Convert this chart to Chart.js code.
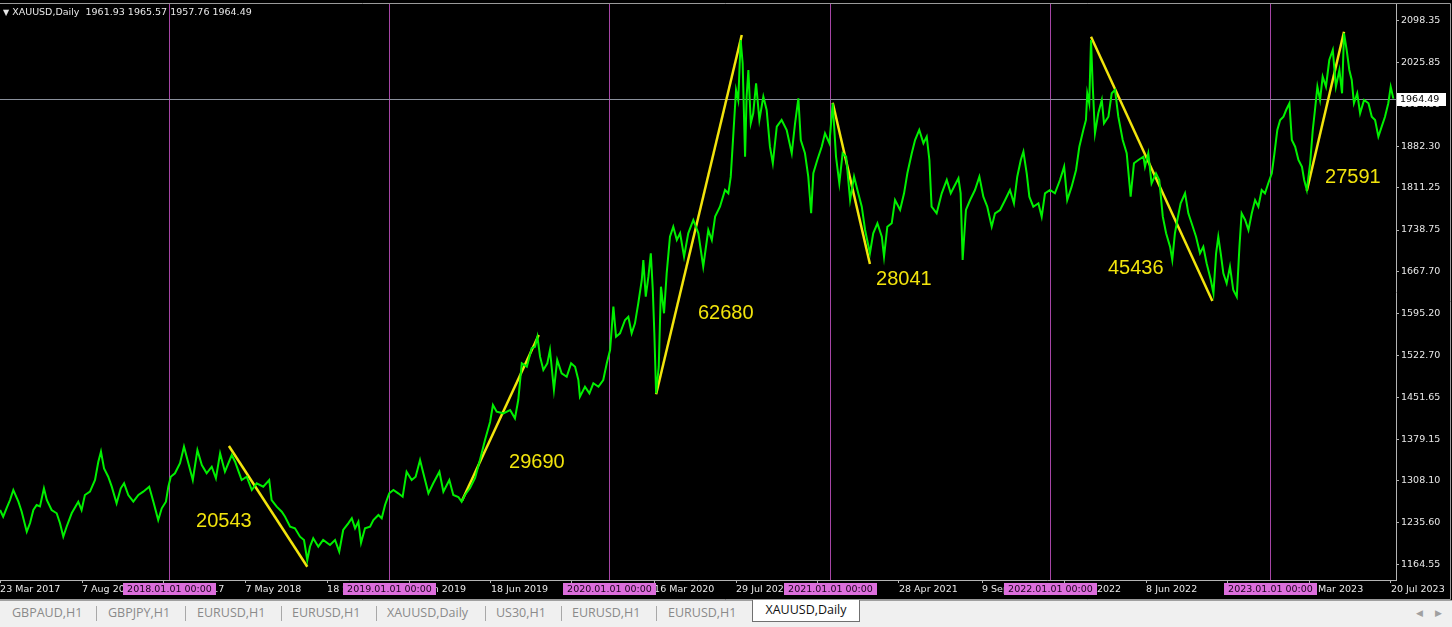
<!DOCTYPE html>
<html>
<head>
<meta charset="utf-8">
<script src="https://cdn.jsdelivr.net/npm/chart.js@4.4.1/dist/chart.umd.min.js"></script>
<style>
  html, body { margin: 0; padding: 0; background: #000; width: 1452px; height: 627px; overflow: hidden; }
  #wrap { position: absolute; left: 0; top: 0; width: 1452px; height: 600px; }
  #header { position: absolute; left: 3px; top: 6px; color: #e8e8e8; font: 9.5px "DejaVu Sans", sans-serif; white-space: pre; }
  #header .tri { font-size: 8px; }
  #tabs { position: absolute; left: 0; top: 600px; width: 1452px; height: 27px; background: #f0f0f0;
          border-top: 1px solid #a0a0a0; box-sizing: border-box; font: 12.5px "Open Sans", sans-serif; color: #8a8a8a; }
  .tab { position: absolute; top: 3px; white-space: nowrap; }
  .sep { position: absolute; top: 5px; width: 1px; height: 15px; background: #a8a8a8; }
  .active { position: absolute; left: 752px; top: -1px; width: 106px; height: 21px; background: #fff;
            border: 1px solid #707070; border-top: none; color: #111; text-align: center; line-height: 20px; }
  .arr { position: absolute; top: 5px; font-size: 9px; color: #a0a0a0; }
</style>
</head>
<body>
<div id="wrap"><canvas id="chart" width="1452" height="600"></canvas></div>
<div id="header"><span class="tri">▼</span> XAUUSD,Daily  1961.93 1965.57 1957.76 1964.49</div>
<div id="tabs">
  <span class="tab" style="left:12px">GBPAUD,H1</span><span class="sep" style="left:96px"></span>
  <span class="tab" style="left:108px">GBPJPY,H1</span><span class="sep" style="left:185px"></span>
  <span class="tab" style="left:197px">EURUSD,H1</span><span class="sep" style="left:281px"></span>
  <span class="tab" style="left:292px">EURUSD,H1</span><span class="sep" style="left:376px"></span>
  <span class="tab" style="left:387px">XAUUSD,Daily</span><span class="sep" style="left:485px"></span>
  <span class="tab" style="left:496px">US30,H1</span><span class="sep" style="left:561px"></span>
  <span class="tab" style="left:572px">EURUSD,H1</span><span class="sep" style="left:656px"></span>
  <span class="tab" style="left:668px">EURUSD,H1</span>
  <span class="active">XAUUSD,Daily</span>
  <span class="arr" style="left:1416px">◀</span><span class="arr" style="left:1435px">▶</span>
</div>
<script>
// XAUUSD daily closes, x = decimal year
const closeYears = [
  2017.233, 2017.247, 2017.263, 2017.278, 2017.293, 2017.316, 2017.331, 2017.354, 2017.369, 2017.384,
  2017.399, 2017.414, 2017.432, 2017.445, 2017.467, 2017.490, 2017.505, 2017.520, 2017.535, 2017.558,
  2017.588, 2017.603, 2017.618, 2017.641, 2017.664, 2017.679, 2017.691, 2017.705, 2017.724, 2017.740,
  2017.762, 2017.781, 2017.796, 2017.815, 2017.838, 2017.861, 2017.883, 2017.910, 2017.929, 2017.951,
  2017.967, 2017.986, 2017.997,
  2018.008, 2018.027, 2018.050, 2018.068, 2018.088, 2018.108, 2018.129, 2018.149, 2018.171, 2018.194,
  2018.213, 2018.232, 2018.254, 2018.285, 2018.300, 2018.319, 2018.330, 2018.353, 2018.376, 2018.398,
  2018.428, 2018.455, 2018.466, 2018.489, 2018.512, 2018.527, 2018.550, 2018.572, 2018.595, 2018.613,
  2018.628, 2018.640, 2018.655, 2018.678, 2018.700, 2018.731, 2018.754, 2018.773, 2018.791, 2018.814,
  2018.830, 2018.845, 2018.860, 2018.872, 2018.890, 2018.913, 2018.928, 2018.951, 2018.966, 2018.981,
  2019.000, 2019.019, 2019.041, 2019.061, 2019.079, 2019.102, 2019.120, 2019.140, 2019.155, 2019.178,
  2019.200, 2019.228, 2019.246, 2019.273, 2019.291, 2019.314, 2019.329, 2019.344, 2019.367, 2019.390,
  2019.412, 2019.435, 2019.458, 2019.471, 2019.488, 2019.518, 2019.549, 2019.571, 2019.586, 2019.602,
  2019.625, 2019.647, 2019.662, 2019.673, 2019.685, 2019.700, 2019.718, 2019.730, 2019.748, 2019.763,
  2019.783, 2019.806, 2019.826, 2019.844, 2019.859, 2019.866, 2019.889, 2019.909, 2019.927, 2019.950,
  2019.972, 2019.988,
  2020.003, 2020.010, 2020.018, 2020.030, 2020.048, 2020.071, 2020.086, 2020.101, 2020.116, 2020.131,
  2020.147, 2020.154, 2020.165, 2020.177, 2020.188, 2020.197, 2020.204, 2020.212, 2020.224, 2020.234,
  2020.248, 2020.260, 2020.275, 2020.290, 2020.306, 2020.321, 2020.339, 2020.358, 2020.381, 2020.404,
  2020.426, 2020.449, 2020.465, 2020.480, 2020.502, 2020.525, 2020.540, 2020.551, 2020.563, 2020.575,
  2020.585, 2020.596, 2020.605, 2020.616, 2020.623, 2020.631, 2020.642, 2020.653, 2020.666, 2020.681,
  2020.699, 2020.714, 2020.729, 2020.742, 2020.760, 2020.782, 2020.805, 2020.828, 2020.843, 2020.858,
  2020.869, 2020.888, 2020.903, 2020.916, 2020.926, 2020.944, 2020.964, 2020.979, 2020.999,
  2021.014, 2021.029, 2021.044, 2021.059, 2021.075, 2021.093, 2021.111, 2021.130, 2021.146, 2021.161,
  2021.183, 2021.198, 2021.217, 2021.237, 2021.247, 2021.262, 2021.282, 2021.297, 2021.320, 2021.338,
  2021.353, 2021.373, 2021.388, 2021.407, 2021.426, 2021.441, 2021.453, 2021.463, 2021.486, 2021.509,
  2021.532, 2021.550, 2021.565, 2021.585, 2021.595, 2021.604, 2021.619, 2021.638, 2021.660, 2021.680,
  2021.698, 2021.716, 2021.736, 2021.751, 2021.774, 2021.797, 2021.819, 2021.837, 2021.852, 2021.868,
  2021.880, 2021.895, 2021.907, 2021.925, 2021.948, 2021.963, 2021.978,
  2022.001, 2022.023, 2022.046, 2022.065, 2022.079, 2022.099, 2022.119, 2022.134, 2022.152, 2022.164,
  2022.170, 2022.179, 2022.187, 2022.195, 2022.205, 2022.220, 2022.236, 2022.246, 2022.266, 2022.281,
  2022.296, 2022.311, 2022.331, 2022.349, 2022.367, 2022.382, 2022.402, 2022.425, 2022.432, 2022.447,
  2022.462, 2022.482, 2022.497, 2022.513, 2022.528, 2022.546, 2022.556, 2022.568, 2022.579, 2022.594,
  2022.614, 2022.629, 2022.644, 2022.664, 2022.682, 2022.697, 2022.712, 2022.731, 2022.743, 2022.755,
  2022.765, 2022.776, 2022.788, 2022.803, 2022.818, 2022.833, 2022.849, 2022.861, 2022.871, 2022.887,
  2022.902, 2022.917, 2022.932, 2022.947, 2022.962, 2022.977, 2022.992,
  2023.008, 2023.020, 2023.033, 2023.046, 2023.061, 2023.073, 2023.088, 2023.099, 2023.114, 2023.129,
  2023.145, 2023.155, 2023.167, 2023.182, 2023.194, 2023.204, 2023.215, 2023.227, 2023.239, 2023.254,
  2023.269, 2023.285, 2023.299, 2023.315, 2023.327, 2023.336, 2023.348, 2023.360, 2023.371, 2023.381,
  2023.396, 2023.409, 2023.427, 2023.447, 2023.462, 2023.477, 2023.492, 2023.507, 2023.522, 2023.537,
  2023.548, 2023.560
];
const closePrices = [
  1257.8, 1246.3, 1261.3, 1275.0, 1292.2, 1272.1, 1254.9, 1220.5, 1235.5, 1257.8,
  1266.4, 1264.0, 1295.1, 1275.0, 1257.8, 1252.2, 1235.0, 1212.0, 1229.1, 1252.2,
  1272.1, 1257.8, 1283.6, 1289.3, 1309.4, 1340.8, 1358.0, 1329.4, 1315.0, 1297.9,
  1269.3, 1295.1, 1303.7, 1283.6, 1272.1, 1283.6, 1289.3, 1297.9, 1272.1, 1240.6,
  1260.7, 1272.1, 1297.9,
  1315.0, 1320.9, 1338.1, 1366.6, 1338.1, 1309.4, 1360.9, 1335.1, 1320.9, 1332.2,
  1312.3, 1355.2, 1323.6, 1352.3, 1340.8, 1320.9, 1309.4, 1315.0, 1292.2, 1303.7,
  1297.9, 1309.4, 1275.0, 1263.5, 1254.9, 1246.3, 1229.1, 1226.4, 1212.0, 1206.3,
  1171.9, 1194.8, 1209.2, 1194.8, 1206.3, 1197.7, 1206.3, 1186.2, 1223.5, 1235.0,
  1243.6, 1226.4, 1237.7, 1201.3, 1226.4, 1229.1, 1240.6, 1249.2, 1243.6, 1266.4,
  1286.5, 1292.2, 1286.5, 1280.7, 1323.6, 1309.4, 1315.0, 1343.7, 1320.9, 1286.5,
  1303.7, 1323.6, 1289.3, 1309.4, 1283.6, 1280.2, 1272.1, 1283.6, 1295.6, 1312.8,
  1343.7, 1378.1, 1409.0, 1438.2, 1426.7, 1423.9, 1429.6, 1415.3, 1446.8, 1509.8,
  1504.0, 1535.6, 1538.3, 1555.5, 1521.2, 1498.3, 1509.8, 1532.7, 1464.0, 1515.5,
  1492.7, 1486.8, 1509.8, 1504.0, 1481.1, 1452.5, 1469.6, 1458.3, 1475.5, 1469.6,
  1481.1, 1509.8,
  1532.7, 1567.0, 1607.1, 1555.5, 1561.3, 1584.2, 1589.9, 1561.3, 1578.5, 1612.9,
  1652.9, 1687.3, 1624.2, 1658.6, 1698.8, 1635.7, 1561.3, 1458.3, 1504.0, 1641.4,
  1595.7, 1664.4, 1727.3, 1744.5, 1721.6, 1733.1, 1692.9, 1733.1, 1756.0, 1733.1,
  1675.8, 1738.8, 1721.6, 1761.7, 1778.8, 1807.5, 1801.8, 1830.4, 1904.9, 1979.3,
  1962.1, 2065.2, 2025.2, 1864.7, 1967.8, 2013.7, 1922.1, 1939.3, 1990.8, 1927.8,
  1967.8, 1944.9, 1881.9, 1853.4, 1916.3, 1927.8, 1910.6, 1870.6, 1922.1, 1965.0,
  1893.4, 1870.6, 1830.4, 1767.5, 1836.2, 1859.1, 1881.9, 1904.9, 1887.7,
  1956.5, 1864.7, 1819.0, 1870.6, 1864.7, 1790.3, 1830.4, 1801.8, 1778.8, 1738.8,
  1698.8, 1733.1, 1750.3, 1727.3, 1692.9, 1744.5, 1750.3, 1790.3, 1773.2, 1801.8,
  1836.2, 1870.6, 1893.4, 1910.6, 1887.7, 1899.1, 1859.1, 1778.8, 1767.5, 1801.8,
  1824.7, 1801.8, 1813.2, 1827.6, 1801.8, 1687.3, 1773.2, 1790.3, 1807.5, 1830.4,
  1796.0, 1778.8, 1744.5, 1767.5, 1773.2, 1790.3, 1807.5, 1784.7, 1830.4, 1859.1,
  1873.3, 1836.2, 1796.0, 1778.8, 1784.7, 1761.7, 1801.8,
  1807.5, 1801.8, 1824.7, 1847.6, 1790.3, 1813.2, 1841.9, 1881.9, 1910.6, 1927.8,
  1973.6, 1956.5, 2065.2, 1985.0, 1904.9, 1939.3, 1962.1, 1922.1, 1933.4, 1973.6,
  1979.3, 1933.4, 1893.4, 1870.6, 1796.0, 1853.4, 1859.1, 1864.7, 1847.5, 1870.6,
  1819.0, 1836.2, 1824.7, 1761.7, 1733.1, 1710.1, 1687.3, 1733.1, 1756.0, 1784.7,
  1801.8, 1767.5, 1750.3, 1727.3, 1698.8, 1710.1, 1681.6, 1652.9, 1630.1, 1698.8,
  1727.3, 1698.8, 1664.4, 1647.2, 1675.8, 1635.7, 1624.2, 1710.1, 1767.5, 1756.0,
  1738.8, 1767.5, 1790.3, 1778.8, 1807.5, 1801.8, 1819.0,
  1836.2, 1870.6, 1910.6, 1927.8, 1933.4, 1944.9, 1956.5, 1893.4, 1881.9, 1859.1,
  1847.5, 1824.7, 1807.5, 1853.4, 1910.6, 1944.9, 1985.0, 1962.1, 2002.1, 1985.0,
  2030.8, 2048.0, 1985.0, 2013.7, 1973.6, 2076.7, 2048.0, 2013.7, 1996.5, 1956.5,
  1973.6, 1939.3, 1962.1, 1956.5, 1933.4, 1927.8, 1899.1, 1916.3, 1933.4, 1956.5,
  1985.0, 1964.5
];
const lastClose = 1964.49;

// hand-drawn swing lines and their point counts
const legStartYears  = [2018.272, 2019.331, 2020.212, 2021.014, 2022.187, 2023.167];
const legStartPrices = [1367.8, 1274.1, 1456.6, 1957.5, 2070.9, 1806.3];
const legEndYears    = [2018.628, 2019.679, 2020.601, 2021.183, 2022.738, 2023.336];
const legEndPrices   = [1160.4, 1558.4, 2073.8, 1680.4, 1616.8, 2079.4];
const legLabels      = ['20543', '29690', '62680', '28041', '45436', '27591'];
const legLabelYears  = [2018.123, 2019.544, 2020.402, 2021.211, 2022.264, 2023.250];
const legLabelPrices = [1238.9, 1338.6, 1596.2, 1654.6, 1673.5, 1829.8];

const yTicks = [2098.35, 2025.85, 1954.80, 1882.30, 1811.25, 1738.75, 1667.70,
                1595.20, 1522.70, 1451.65, 1379.15, 1308.10, 1235.60, 1164.55];
const xTickYears = [2017.233, 2017.605, 2017.976, 2018.347, 2018.718, 2019.090, 2019.462, 2019.830, 2020.203,
                    2020.575, 2020.947, 2021.315, 2021.692, 2022.065, 2022.437, 2022.809, 2023.177, 2023.549];
const xTickLabels = ['23 Mar 2017', '7 Aug 2017', '20 Dec 2017', '7 May 2018', '18 Sep 2018', '31 Jan 2019',
                     '18 Jun 2019', '30 Oct 2019', '16 Mar 2020', '29 Jul 2020', '9 Dec 2020', '28 Apr 2021',
                     '9 Sep 2021', '21 Jan 2022', '8 Jun 2022', '19 Oct 2022', '2 Mar 2023', '20 Jul 2023'];
const separatorYears = [2018, 2019, 2020, 2021, 2022, 2023];
const separatorLabels = ['2018.01.01 00:00', '2019.01.01 00:00', '2020.01.01 00:00',
                         '2021.01.01 00:00', '2022.01.01 00:00', '2023.01.01 00:00'];

const GREEN = '#00f000';
const YELLOW = '#f2e40c';
const AXIS = '#b4b4b4';
const axisFont = { family: 'DejaVu Sans', size: 9.5 };

const closeData = closeYears.map((x, i) => ({ x: x, y: closePrices[i] }));
const legSets = legStartYears.map((x, i) => ({
    data: [{ x: x, y: legStartPrices[i] }, { x: legEndYears[i], y: legEndPrices[i] }],
    borderColor: YELLOW, borderWidth: 2.5, pointRadius: 0, tension: 0
}));

const mt4Overlay = {
    id: 'mt4Overlay',
    beforeDatasetsDraw(chart) {
        const { ctx, chartArea: a, scales: { x, y } } = chart;
        ctx.save();
        ctx.lineWidth = 1;
        ctx.strokeStyle = '#a646a6';
        separatorYears.forEach(yr => {
            const px = Math.round(x.getPixelForValue(yr)) + 0.5;
            ctx.beginPath(); ctx.moveTo(px, a.top); ctx.lineTo(px, a.bottom); ctx.stroke();
        });
        const py = Math.round(y.getPixelForValue(lastClose)) + 0.5;
        ctx.strokeStyle = '#8a909c';
        ctx.beginPath(); ctx.moveTo(a.left, py); ctx.lineTo(a.right, py); ctx.stroke();
        ctx.restore();
    },
    afterDraw(chart) {
        const { ctx, chartArea: a, scales: { x, y } } = chart;
        ctx.save();
        // swing labels
        ctx.fillStyle = YELLOW;
        ctx.font = '20px "Liberation Sans", Arial, sans-serif';
        ctx.textAlign = 'left';
        ctx.textBaseline = 'middle';
        legLabels.forEach((t, i) => {
            ctx.fillText(t, x.getPixelForValue(legLabelYears[i]), y.getPixelForValue(legLabelPrices[i]));
        });
        // window frame
        ctx.strokeStyle = '#9a9a9a';
        ctx.lineWidth = 1;
        ctx.beginPath();
        ctx.moveTo(0, a.top - 0.5); ctx.lineTo(chart.width - 1.5, a.top - 0.5);
        ctx.lineTo(chart.width - 1.5, chart.height - 0.5); ctx.lineTo(0, chart.height - 0.5);
        ctx.stroke();
        // period separator labels
        ctx.font = '9.5px "DejaVu Sans", sans-serif';
        ctx.textAlign = 'center';
        separatorYears.forEach((yr, i) => {
            const px = Math.round(x.getPixelForValue(yr));
            ctx.fillStyle = '#dc6edc';
            ctx.fillRect(px - 46, a.bottom + 3, 93, 12);
            ctx.fillStyle = '#1a001a';
            ctx.fillText(separatorLabels[i], px + 0.5, a.bottom + 9.5);
        });
        // last price tag
        const py = Math.round(y.getPixelForValue(lastClose));
        ctx.fillStyle = '#ffffff';
        ctx.fillRect(a.right + 1, py - 6, 49, 13);
        ctx.fillStyle = '#000000';
        ctx.textAlign = 'left';
        ctx.fillText(lastClose.toFixed(2), a.right + 4, py + 0.5);
        ctx.restore();
    }
};

new Chart(document.getElementById('chart'), {
    type: 'line',
    data: {
        datasets: [
            { data: closeData, borderColor: GREEN, borderWidth: 2, pointRadius: 0, tension: 0 },
            ...legSets
        ]
    },
    options: {
        responsive: false,
        animation: false,
        events: [],
        parsing: false,
        layout: { padding: { top: 4, left: 0, right: 0, bottom: 0 } },
        plugins: { legend: { display: false }, tooltip: { enabled: false } },
        scales: {
            x: {
                type: 'linear',
                position: 'bottom',
                min: 2017.2325,
                max: 2023.572,
                afterBuildTicks: s => { s.ticks = xTickYears.map(v => ({ value: v })); },
                afterFit: s => { s.height = 20; s.paddingLeft = 0; s.paddingRight = 0; },
                grid: { drawOnChartArea: false, drawTicks: true, tickLength: 3, color: AXIS },
                border: { display: true, color: AXIS },
                ticks: {
                    autoSkip: false, maxRotation: 0, minRotation: 0, align: 'start', padding: 1,
                    color: '#e8e8e8', font: axisFont,
                    callback: (v, i) => xTickLabels[i]
                }
            },
            y: {
                type: 'linear',
                position: 'right',
                min: 1137.6,
                max: 2127.0,
                afterBuildTicks: s => { s.ticks = yTicks.map(v => ({ value: v })); },
                afterFit: s => { s.width = 56; s.paddingTop = 0; s.paddingBottom = 0; },
                grid: { drawOnChartArea: false, drawTicks: true, tickLength: 3, color: AXIS },
                border: { display: true, color: AXIS },
                ticks: {
                    padding: 2, color: '#e8e8e8', font: axisFont,
                    callback: v => v.toFixed(2)
                }
            }
        }
    },
    plugins: [mt4Overlay]
});
</script>
</body>
</html>
